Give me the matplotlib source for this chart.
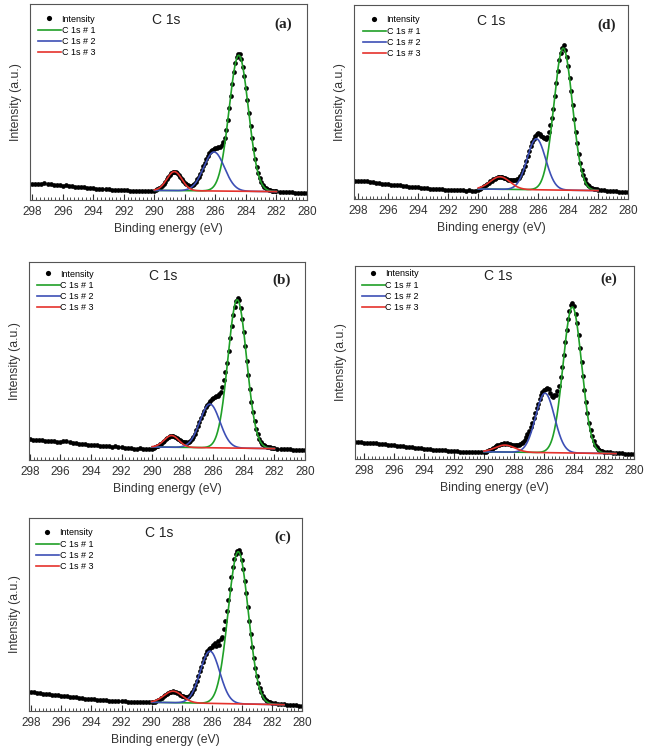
import numpy as np
import matplotlib.pyplot as plt
from matplotlib.ticker import MultipleLocator

plt.rcParams['font.family'] = ['Liberation Sans', 'DejaVu Sans']

# binding energy grid (eV): 0.2 eV steps on the flat background, 0.1 eV across the C 1s envelope
e_left = np.round(np.arange(298.6, 290.1, -0.2), 1)
e_peak = np.round(np.arange(290.0, 281.95, -0.1), 1)
e_right = np.round(np.arange(281.8, 279.95, -0.2), 1)
energy = np.concatenate([e_left, e_peak, e_right])

# measured intensity (a.u.), same order as energy: background 298.6-290.2 | peak 290.0-282.0 | 281.8-280.0
int_a = [16.8, 16.5, 16.3, 16.1, 15.8, 16.0, 16.3, 16.6, 16.2, 15.6, 15.3, 15.0, 14.9, 14.5, 14.6,
         14.1, 13.8, 13.5, 13.3, 13.0, 12.6, 12.4, 12.0, 11.8, 11.5, 11.3, 11.0, 11.1, 10.7, 10.4,
         10.5, 10.2, 10.0, 9.9, 9.6, 9.5, 9.2, 9.3, 9.0, 8.8, 8.9, 8.7, 8.8,
         9.4, 9.8, 10.6, 11.6, 12.5, 14.3, 16.1, 18.0, 20.7, 22.9,
         24.8, 26.9, 28.0, 28.4, 27.8, 27.0, 25.2, 23.3, 20.9, 18.7,
         17.1, 15.8, 14.7, 14.3, 14.4, 15.1, 16.4, 18.2, 20.6, 23.3,
         26.5, 29.9, 33.6, 37.2, 40.8, 43.9, 46.6, 48.7, 50.1, 51.0,
         51.6, 52.1, 52.8, 53.4, 55.0, 57.8, 62.5, 70.0, 80.0, 92.0,
         104, 116, 128, 137, 143, 146.5, 146, 141, 133, 124,
         112, 100, 87, 74, 62, 51, 41, 33, 27, 22,
         18, 15.5, 13.5, 12, 11, 10.3, 9.8, 9.5, 9.3, 9.0,
         8.7,
         8.4, 8.1, 7.9, 8.0, 7.6, 7.4, 7.5, 7.1, 7.0, 6.9]

int_b = [21.5, 21.2, 21.0, 20.7, 20.5, 20.2, 19.8, 19.6, 19.3, 19.1, 18.9, 18.6, 18.4, 18.2, 18.6,
         19.0, 18.3, 17.3, 16.8, 16.5, 16.1, 15.8, 15.5, 15.3, 15.0, 14.7, 14.4, 14.2, 14.0, 13.7,
         13.4, 13.6, 13.0, 12.7, 12.4, 12.1, 11.9, 11.5, 11.3, 11.6, 11.2, 11.0, 11.1,
         11.3, 12.0, 12.9, 13.6, 14.4, 15.6, 16.5, 18.2, 19.4, 21.1,
         22.2, 23.4, 23.8, 24.2, 23.6, 23.2, 21.9, 20.9, 19.8, 18.9,
         18.4, 17.6, 17.9, 17.2, 17.8, 18.9, 20.8, 23.5, 26.4, 29.6,
         33.6, 37.8, 41.9, 45.8, 49.5, 52.6, 55.2, 57.4, 59.3, 61.0,
         62.2, 63.1, 63.6, 64.5, 66.0, 68.5, 73.0, 80.0, 88.0, 97.0,
         109, 122, 134, 145, 153.5, 159.5, 162.5, 160, 152, 141.5,
         128.5, 114, 99.5, 85, 71, 58.5, 48, 39, 31.5, 26,
         21.5, 18.5, 16.4, 15.0, 14.0, 13.3, 12.9, 12.6, 12.2, 11.9,
         11.6,
         11.4, 11.1, 10.8, 10.9, 10.6, 10.4, 10.5, 10.2, 10.1, 10.0]

int_c = [19.6, 19.2, 19.1, 18.6, 18.8, 18.0, 17.7, 17.2, 17.1, 16.6, 16.4, 15.9, 15.7, 15.2, 15.3,
         14.6, 14.4, 13.9, 13.8, 13.3, 13.1, 12.5, 12.4, 11.9, 11.8, 11.4, 11.3, 10.8, 10.8, 10.4,
         10.3, 9.9, 10.0, 9.6, 9.6, 9.3, 9.3, 9.0, 9.1, 8.8, 8.9, 8.7, 8.8,
         8.8, 9.4, 9.5, 10.2, 10.9, 11.5, 12.6, 13.2, 14.6, 15.8,
         16.9, 17.9, 18.6, 19.4, 19.8, 19.5, 19.1, 18.3, 17.6, 16.5,
         15.5, 14.6, 14.2, 14.0, 14.3, 15.2, 17.0, 19.2, 22.4, 26.1,
         30.0, 34.6, 39.6, 44.2, 48.8, 53.0, 56.6, 59.6, 62.0, 63.5,
         64.5, 66.2, 68.5, 64.8, 70.0, 66.0, 72.0, 74.5, 82.0, 90.0,
         100, 111, 122, 134, 144, 152, 157, 160.5, 161, 158,
         151, 142, 130.5, 118, 104.5, 90.5, 77, 64.5, 53.5, 43.5,
         35.0, 28.5, 23.0, 18.7, 15.4, 13.0, 11.3, 10.1, 9.3, 8.7,
         8.2,
         7.6, 7.3, 7.0, 6.8, 6.4, 6.1, 6.0, 5.7, 5.5, 5.3]

int_d = [18.6, 18.4, 18.2, 17.7, 17.9, 18.1, 17.8, 17.2, 16.8, 16.3, 15.9, 15.4, 15.1, 14.7, 14.5,
         14.1, 13.8, 13.6, 13.3, 13.0, 12.5, 12.2, 12.0, 11.6, 11.3, 11.0, 10.9, 10.5, 10.3, 10.0,
         9.8, 9.7, 9.4, 9.3, 9.1, 9.0, 8.8, 8.9, 8.7, 8.5, 8.6, 8.4, 8.4,
         9.2, 10.0, 11.2, 12.0, 13.1, 14.0, 15.3, 16.1, 17.6, 18.4,
         19.8, 20.4, 21.5, 21.8, 22.4, 22.0, 21.9, 21.2, 20.6, 19.9,
         19.4, 19.0, 19.3, 18.6, 18.9, 19.4, 20.2, 21.5, 23.0, 26.0,
         29.3, 33.4, 38.0, 43.0, 48.0, 52.8, 57.0, 60.5, 63.0, 65.2,
         65.8, 64.8, 63.5, 62.0, 61.0, 60.5, 62.5, 67.0, 74.0, 81.0,
         90, 103, 116, 128.5, 139, 146.5, 151, 154, 149, 142.5,
         133, 121.5, 108, 94.5, 80.5, 67.5, 55.8, 45.5, 36.5, 29.5,
         24.0, 19.6, 16.5, 14.2, 12.6, 11.5, 10.8, 10.4, 10.0, 9.6,
         9.3,
         8.9, 8.6, 8.2, 8.0, 7.9, 7.6, 7.4, 7.3, 7.0, 6.9]

int_e = [16.8, 16.5, 16.7, 16.4, 16.1, 15.9, 15.6, 15.6, 15.2, 14.9, 14.5, 14.2, 13.9, 13.6, 13.3,
         13.0, 12.6, 12.3, 12.0, 11.6, 11.3, 10.8, 10.6, 10.3, 10.0, 9.8, 9.4, 9.2, 9.0, 8.7,
         8.6, 8.2, 7.9, 7.7, 7.5, 7.4, 7.2, 7.1, 7.0, 6.8, 6.9, 6.7, 6.6,
         6.9, 7.4, 8.0, 8.5, 9.4, 10.3, 11.0, 12.0, 12.8, 13.6,
         14.2, 14.9, 15.3, 15.6, 15.4, 15.7, 15.2, 14.9, 14.4, 14.1,
         13.7, 13.5, 13.8, 14.2, 14.9, 15.9, 17.3, 19.2, 21.6, 24.5,
         28.0, 32.0, 36.4, 41.2, 46.0, 50.6, 55.4, 59.8, 63.6, 66.8,
         69.0, 70.2, 70.8, 69.5, 66.0, 63.0, 62.2, 63.5, 64.0, 67.5,
         73, 82, 92, 104, 117, 129, 139.5, 148, 153.5, 156,
         152.5, 144.5, 135.5, 124, 110.5, 97, 82.5, 69, 56.5, 45.5,
         36.0, 28.5, 22.5, 17.8, 14.4, 11.9, 10.2, 9.0, 8.2, 7.6,
         7.2,
         6.8, 6.5, 6.2, 6.0, 5.7, 5.5, 5.3, 5.1, 4.9, 4.7]

# fitted components: (centre eV, height above baseline, sigma eV) for C 1s # 1, # 2, # 3
fit_a = [(284.47, 136, 0.63), (286.09, 39, 0.68), (288.69, 19, 0.49)]
fit_b = [(284.43, 148.4, 0.61), (286.22, 43.7, 0.65), (288.73, 11.7, 0.48)]
fit_c = [(284.24, 152.2, 0.67), (286.12, 52.2, 0.65), (288.57, 11.5, 0.61)]
fit_d = [(284.33, 142, 0.62), (286.12, 51, 0.62), (288.55, 12.5, 0.66)]
fit_e = [(284.11, 146, 0.62), (285.93, 59.4, 0.63), (288.6, 7, 0.66)]

# linear fit baseline: (value at 290 eV, value at window end, window end eV)
base_a = (9.6, 8.4, 282.0)
base_b = (13.0, 11.4, 282.0)
base_c = (8.7, 6.3, 281.2)
base_d = (10.0, 8.4, 282.0)
base_e = (7.2, 5.4, 281.2)

labels = ['(a)', '(b)', '(c)', '(d)', '(e)']
comp_names = ['C 1s # 1', 'C 1s # 2', 'C 1s # 3']
comp_colors = ['#20a028', '#3d4fb5', '#e5322c']

# layout: axes box in pixels (left, top, right, bottom), left x-limit, text positions
boxes = [(30, 4, 307, 200), (29, 262, 305, 460), (29, 518, 302, 711),
         (354, 5, 628, 199), (355, 266, 634, 459)]
xmax = [298.15, 298.05, 298.15, 298.3, 298.6]
title_xy = [(0.49, 0.918), (0.487, 0.93), (0.477, 0.924), (0.5, 0.919), (0.514, 0.948)]
label_xy = [(0.913, 0.898), (0.916, 0.906), (0.929, 0.9), (0.922, 0.897), (0.908, 0.931)]
legend_xy = [(0.029, 0.946), (0.029, 0.962), (0.026, 0.946), (0.033, 0.946), (0.025, 0.982)]

data = [int_a, int_b, int_c, int_d, int_e]
fits = [fit_a, fit_b, fit_c, fit_d, fit_e]
bases = [base_a, base_b, base_c, base_d, base_e]

W, H = 650, 755
fig = plt.figure(figsize=(W / 100, H / 100), dpi=100)

for i in range(5):
    l, t, r, b = boxes[i]
    ax = fig.add_axes([l / W, 1 - b / H, (r - l) / W, (b - t) / H])
    inten = np.array(data[i])
    ax.plot(energy, inten, 'o', color='black', ms=3.4, mew=0, label='Intensity', zorder=2)

    b0, b1, e_end = bases[i]
    xs = np.linspace(290.0, e_end, 400)
    bl = b0 + (b1 - b0) * (290.0 - xs) / (290.0 - e_end)
    for (c, h, s), col, name in zip(fits[i], comp_colors, comp_names):
        ax.plot(xs, bl + h * np.exp(-(xs - c) ** 2 / (2 * s * s)), color=col, lw=1.2,
                label=name, zorder=3)

    ax.set_xlim(xmax[i], 280)
    ax.set_ylim(0, b - t)
    ax.set_xticks(np.arange(280, 299, 2))
    ax.xaxis.set_minor_locator(MultipleLocator(0.25))
    ax.set_yticks([])
    ax.tick_params(axis='x', which='major', direction='in', length=4, width=0.8,
                   labelsize=8.5, pad=4, colors='#333333', labelcolor='#333333')
    ax.tick_params(axis='x', which='minor', direction='in', length=2, width=0.6, colors='#333333')
    for sp in ax.spines.values():
        sp.set_color('#555555')
        sp.set_linewidth(0.8)

    ax.set_xlabel('Binding energy (eV)', fontsize=8.8, color='#333333', labelpad=4)
    ax.set_ylabel('Intensity (a.u.)', fontsize=8.8, color='#333333', labelpad=6)

    ax.text(*title_xy[i], 'C 1s', transform=ax.transAxes, ha='center', va='center',
            fontsize=10, color='#222222')
    ax.text(*label_xy[i], labels[i], transform=ax.transAxes, ha='center', va='center',
            fontsize=11, fontweight='bold', family='Liberation Serif', color='#222222')
    ax.legend(loc='upper left', bbox_to_anchor=legend_xy[i], frameon=False, fontsize=6.5,
              handlelength=2.5, handletextpad=0.1, labelspacing=0.25, borderpad=0,
              borderaxespad=0, numpoints=1, markerscale=1.1)

fig.savefig('out.png', dpi=100)
